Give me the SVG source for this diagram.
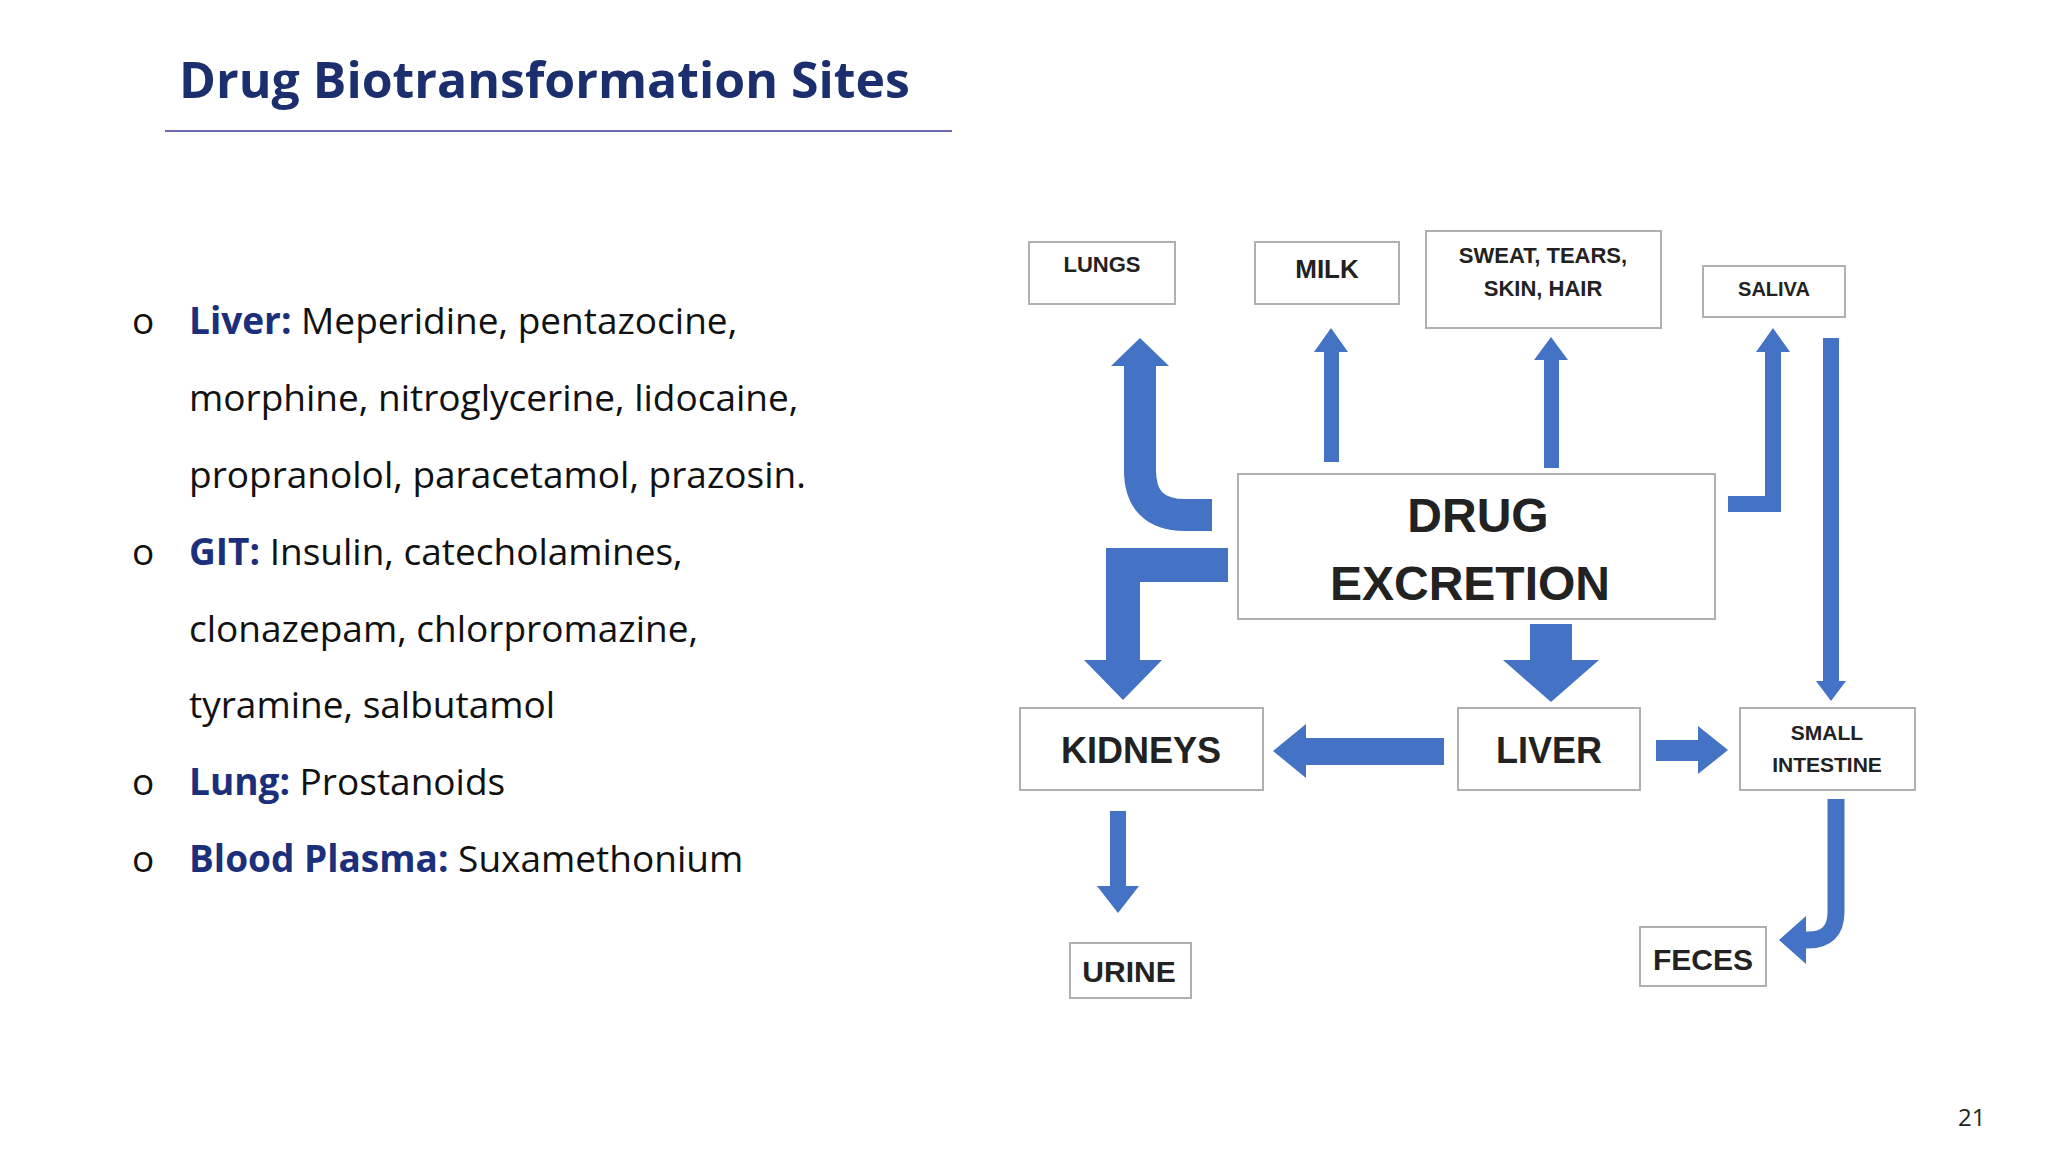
<svg xmlns="http://www.w3.org/2000/svg" width="2048" height="1152" viewBox="0 0 2048 1152">
<style>
.t{font-family:"Open Sans","Liberation Sans",sans-serif;font-size:37px;fill:#111}
.b{font-weight:bold;fill:#1b2f7a}
.box{fill:#fff;stroke:#b0b0b0;stroke-width:2}
.bt{font-family:"Liberation Sans",sans-serif;font-weight:bold;fill:#222;text-anchor:middle}
.a{fill:#4472c4}
.s{fill:none;stroke:#4472c4}
</style>
<rect width="2048" height="1152" fill="#fff"/>
<text x="179" y="98" font-family="Open Sans,Liberation Sans,sans-serif" font-weight="bold" font-size="50" fill="#1b2f6e">Drug Biotransformation Sites</text>
<line x1="165" y1="131" x2="952" y2="131" stroke="#3a3aa0" stroke-width="1.5"/>
<g class="t">
<text x="132" y="334">o</text><text x="189" y="334"><tspan class="b">Liver:</tspan> Meperidine, pentazocine,</text>
<text x="189" y="411">morphine, nitroglycerine, lidocaine,</text>
<text x="189" y="488">propranolol, paracetamol, prazosin.</text>
<text x="132" y="565">o</text><text x="189" y="565"><tspan class="b">GIT:</tspan> Insulin, catecholamines,</text>
<text x="189" y="642">clonazepam, chlorpromazine,</text>
<text x="189" y="718">tyramine, salbutamol</text>
<text x="132" y="795">o</text><text x="189" y="795"><tspan class="b">Lung:</tspan> Prostanoids</text>
<text x="132" y="872">o</text><text x="189" y="872"><tspan class="b">Blood Plasma:</tspan> Suxamethonium</text>
</g>
<text x="1958" y="1126" font-family="Open Sans,Liberation Sans,sans-serif" font-size="24" fill="#222">21</text>
<g id="connectors">
<path class="s" stroke-width="32" d="M1212,515 H1185 Q1140,515 1140,470 V362"/>
<polygon class="a" points="1140,338 1111,366 1169,366"/>
<rect class="a" x="1324" y="348" width="15" height="114"/>
<polygon class="a" points="1331,328 1314,352 1348,352"/>
<rect class="a" x="1544" y="356" width="15" height="112"/>
<polygon class="a" points="1551,337 1534,360 1568,360"/>
<path class="s" stroke-width="16" d="M1728,504 H1773 V348"/>
<polygon class="a" points="1773,328 1756,352 1790,352"/>
<rect class="a" x="1823" y="338" width="16" height="345"/>
<polygon class="a" points="1831,701 1816,681 1846,681"/>
<path class="s" stroke-width="34" d="M1228,565 H1123 V662"/>
<polygon class="a" points="1123,700 1084,660 1162,660"/>
<rect class="a" x="1530" y="624" width="42" height="38"/>
<polygon class="a" points="1551,702 1503,660 1599,660"/>
<rect class="a" x="1304" y="738" width="140" height="27"/>
<polygon class="a" points="1273,751 1306,724 1306,778"/>
<rect class="a" x="1656" y="740" width="44" height="21"/>
<polygon class="a" points="1728,750 1698,726 1698,774"/>
<rect class="a" x="1110" y="811" width="16" height="79"/>
<polygon class="a" points="1118,913 1097,886 1139,886"/>
<path class="s" stroke-width="17" d="M1836,799 V912 Q1836,940 1808,940 H1800"/>
<polygon class="a" points="1779,940 1806,916 1806,964"/>
</g>
<g id="lungs"><rect class="box" x="1029" y="242" width="146" height="62"/><text class="bt" x="1102" y="272" font-size="22">LUNGS</text></g>
<g id="milk"><rect class="box" x="1255" y="242" width="144" height="62"/><text class="bt" x="1327" y="278" font-size="26">MILK</text></g>
<g id="sweat"><rect class="box" x="1426" y="231" width="235" height="97"/><text class="bt" x="1543" y="263" font-size="22">SWEAT, TEARS,</text><text class="bt" x="1543" y="296" font-size="22">SKIN, HAIR</text></g>
<g id="saliva"><rect class="box" x="1703" y="266" width="142" height="51"/><text class="bt" x="1774" y="296" font-size="20">SALIVA</text></g>
<g id="drug"><rect class="box" x="1238" y="474" width="477" height="145"/><text class="bt" x="1478" y="532" font-size="48" font-weight="900">DRUG</text><text class="bt" x="1470" y="600" font-size="48" font-weight="900">EXCRETION</text></g>
<g id="kidneys"><rect class="box" x="1020" y="708" width="243" height="82"/><text class="bt" x="1141" y="763" font-size="36">KIDNEYS</text></g>
<g id="liver"><rect class="box" x="1458" y="708" width="182" height="82"/><text class="bt" x="1549" y="763" font-size="36">LIVER</text></g>
<g id="small"><rect class="box" x="1740" y="708" width="175" height="82"/><text class="bt" x="1827" y="740" font-size="21">SMALL</text><text class="bt" x="1827" y="772" font-size="21">INTESTINE</text></g>
<g id="urine"><rect class="box" x="1070" y="943" width="121" height="55"/><text class="bt" x="1129" y="982" font-size="30">URINE</text></g>
<g id="feces"><rect class="box" x="1640" y="927" width="126" height="59"/><text class="bt" x="1703" y="970" font-size="30">FECES</text></g>
</svg>
